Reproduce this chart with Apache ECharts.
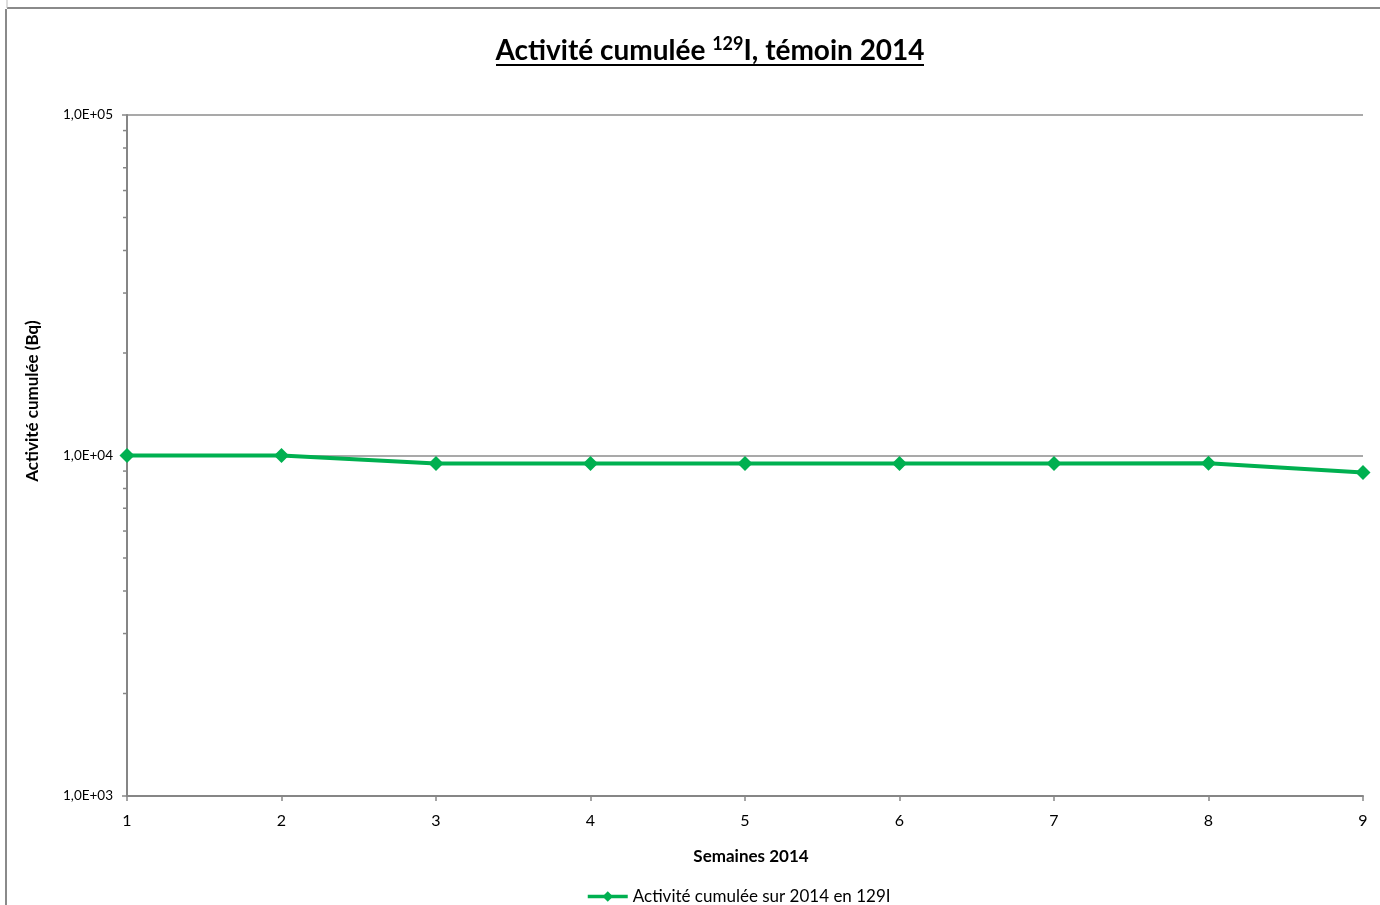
<!DOCTYPE html>
<html>
<head>
<meta charset="utf-8">
<script src="https://cdn.jsdelivr.net/npm/echarts@6/dist/echarts.min.js"></script>
<style>
html,body{margin:0;padding:0;background:#fff;}
#c{width:1380px;height:905px;}
</style>
</head>
<body>
<div id="c"></div>
<script>
var weeks = ['1','2','3','4','5','6','7','8','9'];
var cumulativeActivity = [10000, 10000, 9470, 9470, 9470, 9480, 9480, 9490, 8920];
var minorTickValues = [2000,3000,4000,5000,6000,7000,8000,9000,20000,30000,40000,50000,60000,70000,80000,90000];
var seriesName = 'Activité cumulée sur 2014 en 129I';
var FONT = 'Lato, "Open Sans", sans-serif';

var chart = echarts.init(document.getElementById('c'), null, {renderer:'canvas'});
var option = {
  backgroundColor: '#ffffff',
  animation: false,
  grid: {left: 127, right: 17, top: 115, bottom: 109, containLabel: false},
  graphic: [
    {type:'line', shape:{x1:7, y1:8, x2:1380, y2:8}, style:{stroke:'#8a8a8a', lineWidth:2}, silent:true},
    {type:'line', shape:{x1:6, y1:9, x2:6, y2:905}, style:{stroke:'#8a8a8a', lineWidth:2}, silent:true},
    {type:'line', shape:{x1:7, y1:0, x2:7, y2:8}, style:{stroke:'#bbbbbb', lineWidth:1}, silent:true},
    {type:'text', x:710, y:51, silent:true,
      style:{
        text:'{b|Activité cumulée }{s|129}{b|I, témoin 2014}',
        align:'center', verticalAlign:'middle',
        rich:{
          b:{fontFamily:FONT, fontSize:28, fontWeight:'bold', fill:'#000', lineHeight:32},
          s:{fontFamily:FONT, fontSize:18, fontWeight:'bold', fill:'#000', verticalAlign:'top', lineHeight:32, padding:[0,0,10,0]}
        }
      }
    },
    {type:'rect', shape:{x:496, y:64, width:428, height:2}, style:{fill:'#000'}, silent:true},
    {type:'text', x:33, y:401, rotation:Math.PI/2, silent:true,
      style:{text:'Activité cumulée (Bq)', align:'center', verticalAlign:'middle',
        fontFamily:FONT, fontSize:17, fontWeight:'bold', fill:'#000'}}
  ],
  legend: {
    data: [seriesName],
    bottom: -5,
    left: 581,
    itemWidth: 40,
    itemHeight: 13,
    itemGap: 10,
    lineStyle: {width: 3.5},
    textStyle: {fontFamily: FONT, fontSize: 17, color: '#000'}
  },
  xAxis: {
    type: 'category',
    data: weeks,
    boundaryGap: false,
    name: 'Semaines 2014',
    nameLocation: 'middle',
    nameGap: 52,
    nameTextStyle: {fontFamily: FONT, fontSize: 17, fontWeight: 'bold', color: '#000', padding: [0, 0, 0, 12]},
    axisLine: {lineStyle: {color: '#868686', width: 2}},
    axisTick: {show: true, alignWithLabel: true, length: 5, lineStyle: {color: '#868686', width: 1.5}},
    axisLabel: {fontFamily: FONT, fontSize: 16, color: '#000', margin: 17},
    splitLine: {show: false}
  },
  yAxis: {
    type: 'log',
    logBase: 10,
    min: 1000,
    max: 100000,
    axisLine: {show: true, lineStyle: {color: '#868686', width: 2}},
    axisTick: {show: true, length: 5, lineStyle: {color: '#868686', width: 1.5}},
    axisLabel: {
      fontFamily: FONT, fontSize: 13.5, color: '#000', margin: 14,
      formatter: function (v) {
        var e = Math.round(Math.log(v) / Math.LN10);
        return '1,0E+' + (e < 10 ? '0' + e : e);
      }
    },
    splitLine: {show: true, lineStyle: {color: '#8c8c8c', width: 1.5}}
  },
  series: [
    {
      name: seriesName,
      type: 'line',
      data: cumulativeActivity,
      color: '#00B050',
      lineStyle: {color: '#00B050', width: 4},
      itemStyle: {color: '#00B050'},
      symbol: 'diamond',
      symbolSize: 15,
      showSymbol: true,
      z: 5
    },
    {
      name: 'minorTicks',
      type: 'custom',
      silent: true,
      z: 1,
      data: minorTickValues.map(function (v) { return [0, v]; }),
      encode: {x: 0, y: 1},
      renderItem: function (params, api) {
        var p = api.coord([0, api.value(1)]);
        return {
          type: 'line',
          shape: {x1: p[0] - 4, y1: p[1], x2: p[0], y2: p[1]},
          style: {stroke: '#868686', lineWidth: 1.5}
        };
      }
    }
  ]
};
chart.setOption(option);
</script>
</body>
</html>
